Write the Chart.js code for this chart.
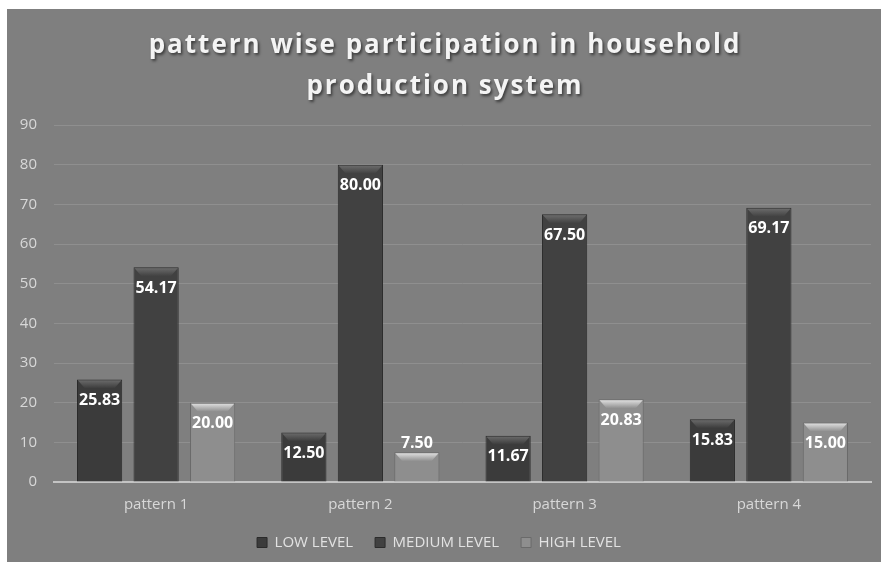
<!DOCTYPE html>
<html>
<head>
<meta charset="utf-8">
<style>
  html, body { margin: 0; padding: 0; background: #fff; }
  #wrap { position: absolute; left: 7px; top: 9px; width: 874px; height: 553px; background: #7f7f7f; }
</style>
</head>
<body>
<div id="wrap"><canvas id="patternChart"></canvas></div>
<script src="https://cdn.jsdelivr.net/npm/chart.js"></script>
<script>
const categories = ["pattern 1", "pattern 2", "pattern 3", "pattern 4"];
const lowLevel = [25.83, 12.50, 11.67, 15.83];
const mediumLevel = [54.17, 80.00, 67.50, 69.17];
const highLevel = [20.00, 7.50, 20.83, 15.00];
const titleLines = ["pattern wise participation in household", "production system"];

// title with the soft shadow
const titlePlugin = {
  id: "shadowTitle",
  afterDraw(chart) {
    const ctx = chart.ctx;
    ctx.save();
    ctx.font = "bold 26px 'Open Sans'";
    ctx.letterSpacing = "2px";
    ctx.textAlign = "center";
    ctx.textBaseline = "middle";
    ctx.fillStyle = "#f4f4f4";
    ctx.shadowColor = "rgba(0,0,0,0.55)";
    ctx.shadowOffsetX = 1.5;
    ctx.shadowOffsetY = 2;
    ctx.shadowBlur = 3;
    titleLines.forEach((line, i) => ctx.fillText(line, chart.width / 2 + 1, 37 + i * 41));
    ctx.restore();
  }
};

// bevel on top of each bar + value labels
const barPlugin = {
  id: "barDeco",
  afterDatasetsDraw(chart) {
    const ctx = chart.ctx;
    chart.data.datasets.forEach((ds, i) => {
      const meta = chart.getDatasetMeta(i);
      meta.data.forEach((bar, j) => {
        const w = bar.width, left = bar.x - w / 2, right = bar.x + w / 2, top = bar.y;
        ctx.save();
        const g = ctx.createLinearGradient(0, top, 0, top + 9);
        g.addColorStop(0, ds.bevelTop);
        g.addColorStop(1, ds.backgroundColor);
        ctx.fillStyle = g;
        ctx.beginPath();
        ctx.moveTo(left + 1, top + 1);
        ctx.lineTo(right - 1, top + 1);
        ctx.lineTo(right - 8, top + 9);
        ctx.lineTo(left + 8, top + 9);
        ctx.closePath();
        ctx.fill();
        ctx.restore();

        const h = bar.base - bar.y;
        const y = h > 36 ? top + 21 : top - 9;
        ctx.save();
        ctx.font = "bold 16px 'Open Sans'";
        ctx.textAlign = "center";
        ctx.textBaseline = "middle";
        ctx.fillStyle = "#ffffff";
        ctx.fillText(ds.data[j].toFixed(2), bar.x, y);
        ctx.restore();
      });
    });
  }
};

const ctx = document.getElementById("patternChart").getContext("2d");
new Chart(ctx, {
  type: "bar",
  data: {
    labels: categories,
    datasets: [
      { label: "LOW LEVEL", data: lowLevel, backgroundColor: "#3b3b3b", borderColor: "#2a2a2a", bevelTop: "#6e6e6e" },
      { label: "MEDIUM LEVEL", data: mediumLevel, backgroundColor: "#414141", borderColor: "#2c2c2c", bevelTop: "#707070" },
      { label: "HIGH LEVEL", data: highLevel, backgroundColor: "#8e8e8e", borderColor: "#6a6a6a", bevelTop: "#e6e6e6" }
    ]
  },
  options: {
    responsive: true,
    maintainAspectRatio: false,
    animation: false,
    datasets: {
      bar: { borderWidth: 1, categoryPercentage: 0.83, barPercentage: 0.8 }
    },
    layout: { padding: { top: 116, right: 10, left: 0, bottom: 2 } },
    plugins: {
      title: { display: false },
      tooltip: { enabled: false },
      legend: {
        position: "bottom",
        labels: {
          color: "#e2e2e2",
          font: { family: "'Open Sans'", size: 15 },
          boxWidth: 10,
          boxHeight: 10,
          padding: 22
        }
      }
    },
    scales: {
      x: {
        grid: { display: false, drawTicks: false },
        border: { color: "#c4c4c4", width: 2 },
        ticks: { color: "#d8d8d8", font: { family: "'Open Sans'", size: 15 }, padding: 14 },
        afterFit(scale) { scale.height = 31; }
      },
      y: {
        min: 0,
        max: 90,
        ticks: { stepSize: 10, color: "#d8d8d8", font: { family: "'Open Sans'", size: 15 }, padding: 17 },
        grid: { color: "#8f8f8f", drawTicks: false },
        border: { display: false },
        afterFit(scale) { scale.width = 47; }
      }
    }
  },
  plugins: [titlePlugin, barPlugin]
});
</script>
</body>
</html>
